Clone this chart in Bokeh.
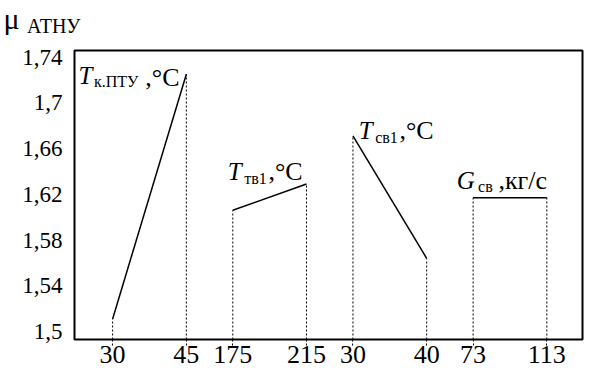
from bokeh.plotting import figure
from bokeh.models import Range1d, FixedTicker, Label, LinearAxis
from bokeh.layouts import column
from bokeh.embed import file_html
from bokeh.resources import INLINE

FONT = "Liberation Serif"

# ---- data ----
X_TICK_LABELS = ["30", "45", "175", "215", "30", "40", "73", "113"]
SERIES_SUBS = ["к.ПТУ", "тв1", "св1", "св"]
SERIES_VARS = ["T", "T", "T", "G"]
SERIES_UNITS = [",°C", ",°C", ",°C", ",кг/с"]
SERIES_START = [1.511, 1.606, 1.671, 1.617]
SERIES_END = [1.725, 1.629, 1.564, 1.617]
Y_TICKS = [1.5, 1.54, 1.58, 1.62, 1.66, 1.70, 1.74]
Y_TICK_LABELS = ["1,5", "1,54", "1,58", "1,62", "1,66", "1,7", "1,74"]
Y_TITLE = "μ"
Y_TITLE_SUB = "АТНУ"

# ---- layout ----
W = 584
TITLE_H = 40
MAIN_H = 334
LEFT = 74
GROUP_STEP = 1.63
X_START, X_END = -0.517, 6.374
Y_START, Y_END = 1.493, 1.7457
# annotation anchors (data units): variable, subscript, unit -> (x, baseline y)
ANN_VAR = [(-0.464, 1.7236), (1.562, 1.6401), (3.338, 1.6759), (4.668, 1.6316)]
ANN_SUB = [(-0.254, 1.7185), (1.786, 1.6342), (3.562, 1.6699), (4.957, 1.6265)]
ANN_UNIT = [(0.443, 1.7219), (2.114, 1.6401), (3.891, 1.6759), (5.234, 1.6316)]

xs = [g * GROUP_STEP + k for g in range(4) for k in (0, 1)]
ys = []
for s, e in zip(SERIES_START, SERIES_END):
    ys += [s, e]

# ---- title strip: the symbol and its subscript live in the left panel ----
t = figure(width=W, height=TITLE_H, output_backend="svg",
           toolbar_location=None, title=None,
           x_range=Range1d(0, 1), y_range=Range1d(0, TITLE_H),
           x_axis_type=None, y_axis_type=None,
           min_border_left=LEFT, min_border_right=2, min_border_top=0,
           min_border_bottom=0)
t.grid.visible = False
t.outline_line_color = None


def title_axis(tick, text, size, standoff):
    ax = LinearAxis(ticker=FixedTicker(ticks=[tick]),
                    major_label_overrides={tick: text})
    ax.axis_line_color = None
    ax.major_tick_line_color = None
    ax.major_tick_in = 0
    ax.major_tick_out = 0
    ax.minor_tick_line_color = None
    ax.major_label_standoff = standoff
    ax.major_label_text_font = FONT
    ax.major_label_text_font_size = size
    ax.major_label_text_color = "black"
    t.add_layout(ax, "left")


title_axis(14.5, Y_TITLE_SUB, "20px", -6)   # inner (next to frame)
title_axis(25.0, Y_TITLE, "30px", 4)        # outer

# ---- main chart ----
p = figure(width=W, height=MAIN_H, output_backend="svg", toolbar_location=None,
           title=None,
           x_range=Range1d(X_START, X_END), y_range=Range1d(Y_START, Y_END),
           min_border_left=LEFT, min_border_right=2, min_border_top=10,
           min_border_bottom=35)
p.grid.visible = False
p.outline_line_color = "black"
p.outline_line_width = 2
p.background_fill_color = "white"
p.border_fill_color = "white"

xa = p.xaxis[0]
xa.ticker = FixedTicker(ticks=xs)
xa.major_label_overrides = dict(zip(xs, X_TICK_LABELS))
xa.axis_line_color = None
xa.major_tick_in = 0
xa.major_tick_out = 6
xa.major_tick_line_color = "black"
xa.major_tick_line_width = 1
xa.major_tick_line_dash = "2 2"
xa.minor_tick_line_color = None
xa.major_label_standoff = 0
xa.major_label_text_font = FONT
xa.major_label_text_font_size = "26px"
xa.major_label_text_color = "black"

ya = p.yaxis[0]
ya.ticker = FixedTicker(ticks=Y_TICKS)
ya.major_label_overrides = dict(zip(Y_TICKS, Y_TICK_LABELS))
ya.axis_line_color = None
ya.major_tick_in = 0
ya.major_tick_out = 0
ya.minor_tick_line_color = None
ya.major_label_standoff = 12
ya.major_label_text_font = FONT
ya.major_label_text_font_size = "23px"
ya.major_label_text_color = "black"

# dotted drop lines
p.segment(x0=xs, y0=[Y_START] * len(xs), x1=xs, y1=ys,
          line_color="black", line_width=1, line_dash="2 2")
# series lines
p.segment(x0=xs[0::2], y0=SERIES_START, x1=xs[1::2], y1=SERIES_END,
          line_color="black", line_width=1.5)


def lab(x, y, text, size, style="normal"):
    p.add_layout(Label(x=x, y=y, text=text, text_font=FONT,
                       text_font_size=size, text_font_style=style,
                       text_color="black", text_align="left",
                       text_baseline="alphabetic"))


for i in range(4):
    lab(ANN_VAR[i][0], ANN_VAR[i][1], SERIES_VARS[i], "25px", "italic")
    lab(ANN_SUB[i][0], ANN_SUB[i][1], SERIES_SUBS[i], "16px")
    lab(ANN_UNIT[i][0], ANN_UNIT[i][1], SERIES_UNITS[i], "26px")

layout = column(t, p, spacing=0)
open("out.html", "w").write(file_html(layout, INLINE))
